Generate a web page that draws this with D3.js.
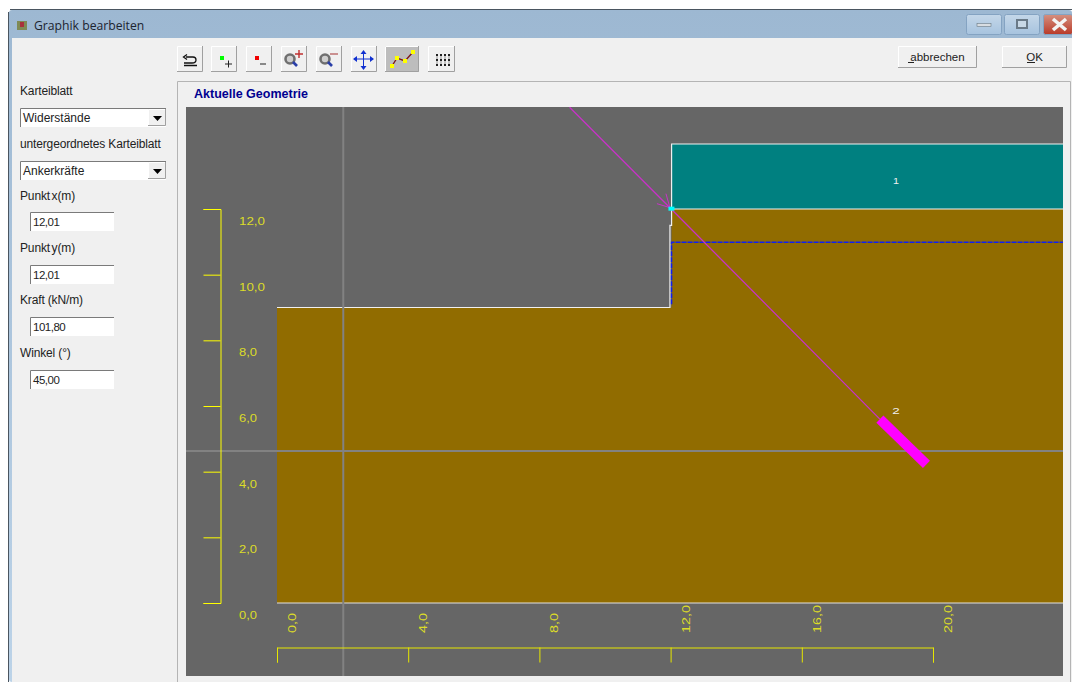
<!DOCTYPE html>
<html>
<head>
<meta charset="utf-8">
<script src="https://cdnjs.cloudflare.com/ajax/libs/d3/7.8.5/d3.min.js"></script>
<style>
html, body { margin: 0; padding: 0; background: #fff; overflow: hidden; }
text { font-family: "Liberation Sans", Arial, sans-serif; }
</style>
</head>
<body>
<svg id="chart" width="1072" height="682"></svg>
<script>
// geometry in metres
var xTicks = [0, 4, 8, 12, 16, 20];
var yTicks = [0, 2, 4, 6, 8, 10, 12];
var layer1 = [[12.03, 12], [12.03, 13.98], [24, 13.98], [24, 12]];
var layer2 = [[0, 0], [0, 9], [12.03, 9], [12.03, 12], [24, 12], [24, 0]];
var groundLine = [[0, 0], [24, 0]];
var surfaceLine = [[0, 9], [11.98, 9], [11.98, 11.5], [12.03, 11.5], [12.03, 13.98], [24, 13.98]];
var layerBorder = [[12.03, 12], [24, 12]];
var waterLine = [[12.03, 9.1], [12.03, 10.99], [24, 10.99]];
var anchorFree = [[8.92, 15.1], [12.01, 12.01], [18.38, 5.6]];
var anchorBond = [[18.38, 5.6], [19.8, 4.22]];
var anchorHead = [12.01, 12.01];
var crossX = 2.02;
var crossY = 4.63;
var layerLabels = [{ name: "1", x: 18.87, y: 12.85, w: 6 }, { name: "2", x: 18.87, y: 5.85, w: 7.5 }];

// form contents
var formLabels = [
	["Karteiblatt", 95], ["untergeordnetes Karteiblatt", 148], ["Punkt x(m)", 200],
	["Punkt y(m)", 252], ["Kraft (kN/m)", 304], ["Winkel (°)", 357]
];
var selects = [["Widerstände", 108], ["Ankerkräfte", 161]];
var inputs = [["12,01", 212], ["12,01", 265], ["101,80", 317], ["45,00", 370]];
var toolX = [177, 211, 246, 281, 316, 351, 385, 428];
var toolW = [26, 26, 26, 26, 26, 26, 34, 27];

var svg = d3.select("#chart");

var xScale = d3.scaleLinear().domain([0, 20]).range([277, 933]);
var yScale = d3.scaleLinear().domain([0, 12]).range([603, 209]);
var line = d3.line().x(function(d) { return xScale(d[0]); }).y(function(d) { return yScale(d[1]); });
var plot = { x: 186, y: 107, w: 877, h: 569 };

// window frame
var defs = svg.append("defs");
var grad = defs.append("linearGradient").attr("id", "title").attr("x1", 0).attr("x2", 0).attr("y1", 0).attr("y2", 1);
grad.append("stop").attr("offset", 0).attr("stop-color", "#9db8d2");
grad.append("stop").attr("offset", 1).attr("stop-color", "#bcd3e8");
var btnGrad = defs.append("linearGradient").attr("id", "winBtn").attr("x1", 0).attr("x2", 0).attr("y1", 0).attr("y2", 1);
btnGrad.append("stop").attr("offset", 0).attr("stop-color", "#c4d7e9");
btnGrad.append("stop").attr("offset", 1).attr("stop-color", "#a7c3de");
var closeGrad = defs.append("linearGradient").attr("id", "closeBtn").attr("x1", 0).attr("x2", 0).attr("y1", 0).attr("y2", 1);
closeGrad.append("stop").attr("offset", 0).attr("stop-color", "#d59080");
closeGrad.append("stop").attr("offset", 1).attr("stop-color", "#b93a28");
defs.append("clipPath").attr("id", "plotClip").append("rect")
	.attr("x", plot.x).attr("y", plot.y).attr("width", plot.w).attr("height", plot.h);

svg.append("rect").attr("x", 9).attr("y", 10).attr("width", 1063).attr("height", 672).attr("fill", "url(#title)").attr("rx", 3);
svg.append("line").attr("x1", 10).attr("x2", 1072).attr("y1", 9.5).attr("y2", 9.5).attr("stroke", "#4a5560");
svg.append("line").attr("x1", 8.5).attr("x2", 8.5).attr("y1", 12).attr("y2", 682).attr("stroke", "#4a5560");
svg.append("rect").attr("x", 12).attr("y", 38).attr("width", 1060).attr("height", 644).attr("fill", "#f0f0f0");

svg.append("rect").attr("x", 17).attr("y", 21).attr("width", 10).attr("height", 9).attr("fill", "#7f8a55");
svg.append("rect").attr("x", 20).attr("y", 22).attr("width", 4).attr("height", 5).attr("fill", "#a8323c");
svg.append("text").attr("x", 34).attr("y", 30).attr("font-size", 12.2).attr("fill", "#1c2430")
	.style("font-family", "'Open Sans'").text("Graphik bearbeiten");

// window buttons
[[966, 35, "url(#winBtn)"], [1004, 35, "url(#winBtn)"], [1043, 29, "url(#closeBtn)"]].forEach(function(b) {
	svg.append("rect").attr("x", b[0] + .5).attr("y", 14.5).attr("width", b[1]).attr("height", 20).attr("rx", 2)
		.attr("fill", b[2]).attr("stroke", "#84a3c2");
});
svg.append("rect").attr("x", 977).attr("y", 23.5).attr("width", 14).attr("height", 3).attr("fill", "#d8dde2").attr("stroke", "#6a7884").attr("stroke-width", .6);
svg.append("rect").attr("x", 1017).attr("y", 20).attr("width", 10).attr("height", 8).attr("fill", "#c8d8e6").attr("stroke", "#6a7a88").attr("stroke-width", 2);
svg.append("path").attr("d", "M1053,19L1066,30M1066,19L1053,30").attr("stroke", "#f3f3f3").attr("stroke-width", 3.6);

// raised buttons
function raised(x, y, w, h, fill) {
	svg.append("rect").attr("x", x).attr("y", y).attr("width", w).attr("height", h).attr("fill", fill || "#f0f0f0");
	svg.append("path").attr("d", "M" + (x + .5) + "," + (y + h) + "V" + (y + .5) + "H" + (x + w))
		.attr("fill", "none").attr("stroke", "#fff");
	svg.append("path").attr("d", "M" + (x + w - .5) + "," + y + "V" + (y + h - .5) + "H" + x)
		.attr("fill", "none").attr("stroke", "#a0a0a0");
}
toolX.forEach(function(x, i) { raised(x, 46, toolW[i], 26, i === 6 ? "#bdbdbd" : "#f0f0f0"); });

// toolbar icons
svg.append("path").attr("d", "M186,57H193Q196,57 196,60Q196,63 192,63H184M187,54.5L183.5,57L187,59.5M184,65.5H197")
	.attr("fill", "none").attr("stroke", "#111").attr("stroke-width", 1.3);
svg.append("rect").attr("x", 220).attr("y", 56).attr("width", 4).attr("height", 4).attr("fill", "#00ff00");
svg.append("path").attr("d", "M225,64H232M228.5,60.5V67.5").attr("stroke", "#222");
svg.append("rect").attr("x", 255).attr("y", 56).attr("width", 4).attr("height", 4).attr("fill", "#f00000");
svg.append("path").attr("d", "M260,64H266").attr("stroke", "#222");
[[290, 59], [325, 59]].forEach(function(c) {
	svg.append("circle").attr("cx", c[0]).attr("cy", c[1]).attr("r", 4.5).attr("fill", "#cfcfcf").attr("stroke", "#707070").attr("stroke-width", 2.6);
	svg.append("path").attr("d", "M" + (c[0] + 3) + "," + (c[1] + 3) + "l4,4").attr("stroke", "#2a3fa8").attr("stroke-width", 2.6);
});
svg.append("path").attr("d", "M295,54H303M299,50V58").attr("stroke", "#c03030").attr("stroke-width", 1.4);
svg.append("path").attr("d", "M330,54H338").attr("stroke", "#b05050").attr("stroke-width", 1.2);
svg.append("path").attr("d", "M354,59H373M363.5,51V69").attr("stroke", "#1030d0");
svg.append("path").attr("d", "M353,59l4,-3v6zM374,59l-4,-3v6zM363.5,50l-3,4h6zM363.5,70l-3,-4h6z").attr("fill", "#1030d0");
svg.append("path").attr("d", "M392,66L397,58L405,61L413,52").attr("fill", "none").attr("stroke", "#7c1818").attr("stroke-width", 1.4);
[[392, 66], [397, 58], [405, 61], [413, 52]].forEach(function(p) {
	svg.append("rect").attr("x", p[0] - 2).attr("y", p[1] - 2).attr("width", 4).attr("height", 4).attr("fill", "#ffff00");
});
d3.range(4).forEach(function(i) {
	svg.append("rect").attr("x", 436.5 + i * 4).attr("y", 54).attr("width", 1).attr("height", 12).attr("fill", "#999");
	d3.range(3).forEach(function(j) {
		svg.append("rect").attr("x", 436 + i * 4).attr("y", 54 + j * 5).attr("width", 2).attr("height", 2).attr("fill", "#222");
	});
});

raised(898, 46, 79, 22);
raised(1002, 46, 65, 22);
svg.append("text").attr("x", 937.5).attr("y", 61).attr("text-anchor", "middle").attr("font-size", 11.5).attr("fill", "#222").text("abbrechen");
svg.append("line").attr("x1", 908).attr("x2", 914).attr("y1", 62.5).attr("y2", 62.5).attr("stroke", "#222");
svg.append("text").attr("x", 1034.5).attr("y", 61).attr("text-anchor", "middle").attr("font-size", 11.5).attr("fill", "#222").text("OK");
svg.append("line").attr("x1", 1027).attr("x2", 1035).attr("y1", 62.5).attr("y2", 62.5).attr("stroke", "#222");

// form on the left
formLabels.forEach(function(d) {
	svg.append("text").attr("x", 20).attr("y", d[1]).attr("font-size", 12).attr("letter-spacing", -0.15)
		.attr("word-spacing", d[0].indexOf("Punkt") === 0 ? -1.5 : 0).attr("fill", "#222").text(d[0]);
});
function sunken(x, y, w, h) {
	svg.append("rect").attr("x", x).attr("y", y).attr("width", w).attr("height", h).attr("fill", "#fff");
	svg.append("path").attr("d", "M" + (x + .5) + "," + (y + h) + "V" + (y + .5) + "H" + (x + w))
		.attr("fill", "none").attr("stroke", "#7a7a7a");
}
selects.forEach(function(d) {
	sunken(20, d[1], 146, 19);
	raised(148, d[1] + 1, 18, 17);
	svg.append("path").attr("d", "M153," + (d[1] + 8) + "h9l-4.5,5z").attr("fill", "#000");
	svg.append("text").attr("x", 23).attr("y", d[1] + 14).attr("font-size", 12).attr("fill", "#222").text(d[0]);
});
inputs.forEach(function(d) {
	sunken(30, d[1], 84, 19);
	svg.append("text").attr("x", 33).attr("y", d[1] + 14).attr("font-size", 11.5).attr("letter-spacing", -0.5).attr("fill", "#222").text(d[0]);
});

// panel and plot area
svg.append("path").attr("d", "M177.5,682V81.5H1070.5V682").attr("fill", "none").attr("stroke", "#b4b4b4");
svg.append("text").attr("x", 194).attr("y", 98).attr("font-size", 12.5).attr("font-weight", "bold")
	.attr("fill", "#000090").text("Aktuelle Geometrie");
svg.append("rect").attr("x", plot.x).attr("y", plot.y).attr("width", plot.w).attr("height", plot.h).attr("fill", "#666666");

var g = svg.append("g").attr("clip-path", "url(#plotClip)");

g.append("path").datum(layer2).attr("d", line.curve(d3.curveLinearClosed)).attr("fill", "#916c00");
g.append("path").datum(layer1).attr("d", line).attr("fill", "#008080");
line.curve(d3.curveLinear);

g.append("path").datum(surfaceLine).attr("d", line).attr("fill", "none").attr("stroke", "#f0f0f0").attr("stroke-width", 1.2);
g.append("path").datum(layerBorder).attr("d", line).attr("fill", "none").attr("stroke", "#f0f0f0").attr("stroke-width", 1);
g.append("path").datum(groundLine).attr("d", line).attr("fill", "none").attr("stroke", "#e0e0e0").attr("stroke-width", 1);
g.append("path").datum(waterLine).attr("d", line).attr("fill", "none").attr("stroke", "#1020f0")
	.attr("stroke-width", 1.5).attr("stroke-dasharray", "5,1");

// crosshair
g.append("line").attr("x1", xScale(crossX)).attr("x2", xScale(crossX)).attr("y1", plot.y).attr("y2", plot.y + plot.h)
	.attr("stroke", "#828282").attr("stroke-width", 2);
g.append("line").attr("x1", plot.x).attr("x2", plot.x + plot.w).attr("y1", yScale(crossY)).attr("y2", yScale(crossY))
	.attr("stroke", "#828282").attr("stroke-width", 2);

// anchor
g.append("path").datum(anchorFree).attr("d", line).attr("fill", "none").attr("stroke", "#c832c8").attr("stroke-width", 1.3);
g.append("path").datum(anchorBond).attr("d", line).attr("fill", "none").attr("stroke", "#ff00ff").attr("stroke-width", 10);
var hx = xScale(anchorHead[0]), hy = yScale(anchorHead[1]);
g.append("path").attr("d", "M" + (hx - 5) + "," + (hy - 15) + "L" + (hx - 1) + "," + (hy - 1) + "L" + (hx - 14) + "," + (hy - 5))
	.attr("fill", "none").attr("stroke", "#c832c8");
g.append("rect").attr("x", hx - 2.5).attr("y", hy - 2).attr("width", 6).attr("height", 4).attr("fill", "#00ffff");

g.selectAll(".layerLabel").data(layerLabels).enter().append("text")
	.attr("class", "layerLabel")
	.attr("x", function(d) { return xScale(d.x); })
	.attr("y", function(d) { return yScale(d.y) + 3; })
	.attr("text-anchor", "middle").attr("font-size", 9).attr("fill", "#f0f0f0")
	.attr("textLength", function(d) { return d.w; }).attr("lengthAdjust", "spacingAndGlyphs")
	.text(function(d) { return d.name; });

// axes
var fmt = function(d) { return d.toFixed(1).replace(".", ","); };

var yAxis = d3.axisLeft(yScale).tickValues(yTicks).tickSize(17).tickFormat(fmt);
var yG = svg.append("g").attr("transform", "translate(220.5,0)").call(yAxis);
yG.select(".domain").attr("stroke", "#ffff00");
yG.selectAll(".tick line").attr("stroke", "#ffff00");
yG.selectAll(".tick text")
	.attr("x", 18.5).attr("dy", 0).attr("y", 15.5)
	.attr("text-anchor", "start").attr("font-size", 10).attr("fill", "#dcdc28")
	.attr("textLength", function(d) { return d >= 10 ? 26 : 18; }).attr("lengthAdjust", "spacingAndGlyphs")
	.style("font-family", "'Liberation Sans'");

var xAxis = d3.axisBottom(xScale).tickValues(xTicks).tickSize(15).tickFormat(fmt);
var xG = svg.append("g").attr("transform", "translate(0,647.5)").call(xAxis);
xG.select(".domain").attr("stroke", "#e6e600");
xG.selectAll(".tick line").attr("stroke", "#e6e600");
xG.selectAll(".tick text")
	.attr("y", 0).attr("dy", 0)
	.attr("transform", "translate(18.5,-14.5) rotate(-90)")
	.attr("text-anchor", "start").attr("font-size", 11).attr("fill", "#dcdc28")
	.attr("textLength", function(d) { return d >= 10 ? 28 : 20; }).attr("lengthAdjust", "spacingAndGlyphs")
	.style("font-family", "'Liberation Sans'");
</script>
</body>
</html>
